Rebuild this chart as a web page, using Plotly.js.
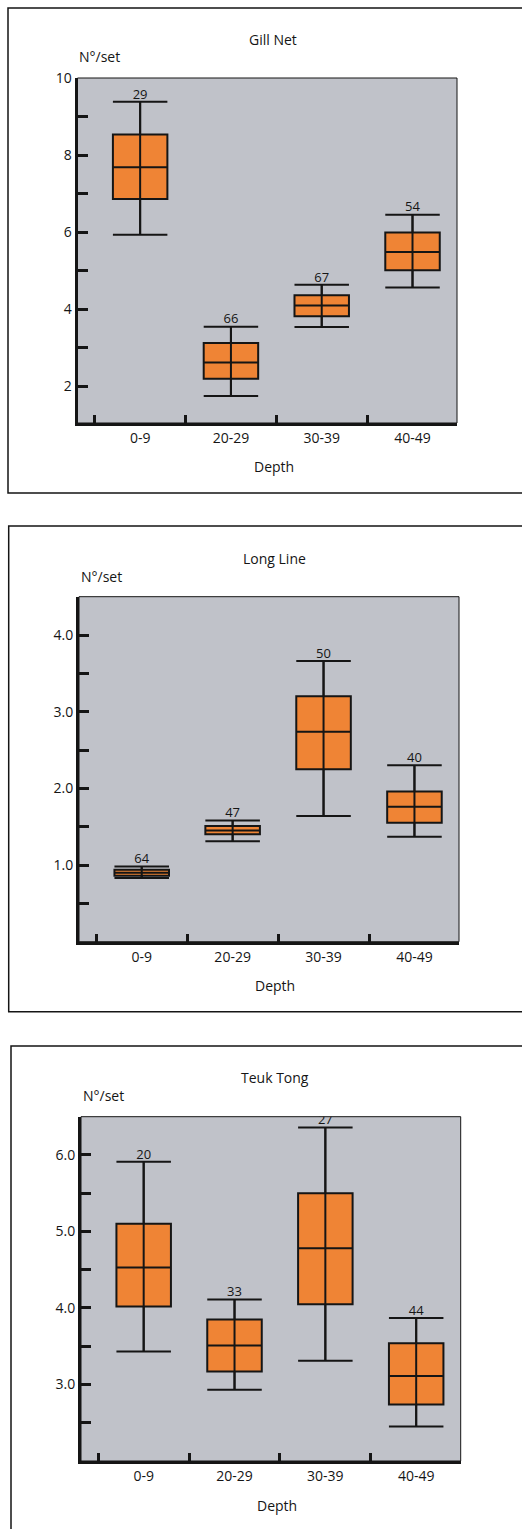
<!DOCTYPE html>
<html>
<head>
<meta charset="utf-8">
<script src="https://cdn.plot.ly/plotly-3.0.1.min.js"></script>
<style>
html,body{margin:0;padding:0;background:#fff;}
#chart{width:522px;height:1529px;}
</style>
</head>
<body>
<div id="chart"></div>
<script>
// ---- data ----
const depths = ['0-9', '20-29', '30-39', '40-49'];
const panelTitles = ['Gill Net', 'Long Line', 'Teuk Tong'];
const yLabel = 'N°/set';
const xLabel = 'Depth';

const gillLower  = [5.93, 1.74, 3.53, 4.56];
const gillQ1     = [6.86, 2.19, 3.81, 5.01];
const gillMedian = [7.68, 2.61, 4.09, 5.48];
const gillQ3     = [8.53, 3.12, 4.36, 5.99];
const gillUpper  = [9.38, 3.54, 4.63, 6.45];
const gillN      = [29, 66, 67, 54];

const longLower  = [0.83, 1.31, 1.64, 1.37];
const longQ1     = [0.86, 1.40, 2.25, 1.55];
const longMedian = [0.90, 1.45, 2.74, 1.76];
const longQ3     = [0.94, 1.51, 3.20, 1.96];
const longUpper  = [0.98, 1.58, 3.66, 2.30];
const longN      = [64, 47, 50, 40];

const teukLower  = [3.43, 2.93, 3.31, 2.45];
const teukQ1     = [4.02, 3.17, 4.05, 2.74];
const teukMedian = [4.53, 3.51, 4.78, 3.11];
const teukQ3     = [5.10, 3.85, 5.50, 3.54];
const teukUpper  = [5.91, 4.11, 6.36, 3.87];
const teukN      = [20, 33, 27, 44];

const gillTicks = [2, 4, 6, 8, 10];
const longTicks = [1, 2, 3, 4];
const teukTicks = [3, 4, 5, 6];

// ---- layout helpers ----
const W = 522, H = 1529;
const px = v => v / W;
const py = v => 1 - v / H;
const FONT = '"Open Sans", "Noto Sans", sans-serif';
const ORANGE = '#EF8435';
const GRAY = '#C0C2C9';
const INK = '#151515';

const series = [
  {lo: gillLower, q1: gillQ1, med: gillMedian, q3: gillQ3, hi: gillUpper, n: gillN,
   ticks: gillTicks, fmt: 'd', range: [1.04, 10], minor: 1,
   plot: [77.5, 78, 457, 423], frame: [8, 8, 530, 493],
   title: [273, 39], ylab: [77, 57], xlab: [274, 467]},
  {lo: longLower, q1: longQ1, med: longMedian, q3: longQ3, hi: longUpper, n: longN,
   ticks: longTicks, fmt: '.1f', range: [0, 4.5], minor: 0.5,
   plot: [79, 596.7, 459, 941.7], frame: [8.7, 526, 530, 1011.7],
   title: [274, 558], ylab: [79, 576], xlab: [275, 985]},
  {lo: teukLower, q1: teukQ1, med: teukMedian, q3: teukQ3, hi: teukUpper, n: teukN,
   ticks: teukTicks, fmt: '.1f', range: [2, 6.5], minor: 0.5,
   plot: [81, 1116.7, 460.7, 1461], frame: [11, 1046, 530, 1545],
   title: [275, 1077], ylab: [81, 1095], xlab: [277, 1505]}
];

const data = [];
const layout = {
  width: W, height: H,
  margin: {l: 0, r: 0, t: 0, b: 0},
  paper_bgcolor: '#ffffff',
  plot_bgcolor: GRAY,
  showlegend: false,
  font: {family: FONT, size: 14, color: INK},
  shapes: [],
  annotations: []
};

series.forEach((s, i) => {
  const k = i === 0 ? '' : String(i + 1);
  const xa = 'x' + k, ya = 'y' + k;

  data.push({
    type: 'box', xaxis: xa, yaxis: ya,
    x: depths, q1: s.q1, median: s.med, q3: s.q3,
    lowerfence: s.lo, upperfence: s.hi,
    boxpoints: false, width: 0.6, whiskerwidth: 1,
    fillcolor: ORANGE, line: {color: INK, width: 2},
    hoverinfo: 'skip'
  });

  // whisker running through the box
  const wx = [], wy = [];
  depths.forEach((d, j) => { wx.push(d, d, null); wy.push(s.lo[j], s.hi[j], null); });
  data.push({
    type: 'scatter', mode: 'lines', xaxis: xa, yaxis: ya,
    x: wx, y: wy, line: {color: INK, width: 2}, hoverinfo: 'skip'
  });

  // sample sizes above the upper whisker
  data.push({
    type: 'scatter', mode: 'text', xaxis: xa, yaxis: ya,
    x: depths, y: s.hi, text: s.n.map(String),
    textposition: 'top center', textfont: {family: FONT, size: 13, color: INK},
    hoverinfo: 'skip'
  });

  const [l, t, r, b] = s.plot;
  layout['xaxis' + k] = {
    domain: [px(l), px(r)], anchor: ya,
    type: 'category', categoryorder: 'array', categoryarray: depths,
    range: [-0.69, 3.49],
    showline: true, linewidth: 3, linecolor: INK,
    ticks: 'inside', tickson: 'boundaries', ticklen: 8, tickwidth: 3, tickcolor: INK,
    showgrid: false, zeroline: false, fixedrange: true,
    tickfont: {family: FONT, size: 14, color: INK}
  };
  layout['yaxis' + k] = {
    domain: [py(b), py(t)], anchor: xa,
    range: s.range,
    tickmode: 'array', tickvals: s.ticks, tickformat: s.fmt,
    showline: true, linewidth: 3, linecolor: INK,
    ticks: 'inside', ticklen: 10, tickwidth: 3, tickcolor: INK,
    minor: {tickmode: 'linear', tick0: 0, dtick: s.minor, ticks: 'inside', ticklen: 10, tickwidth: 3, tickcolor: INK, showgrid: false},
    showgrid: false, zeroline: false, fixedrange: true,
    tickfont: {family: FONT, size: 14, color: INK}
  };

  // thin plot-area border
  layout.shapes.push({
    type: 'rect', xref: xa + ' domain', yref: ya + ' domain',
    x0: 0, x1: 1, y0: 0, y1: 1, layer: 'below',
    line: {color: INK, width: 1}, fillcolor: 'rgba(0,0,0,0)'
  });
  // outer frame
  const [fl, ft, fr, fb] = s.frame;
  layout.shapes.push({
    type: 'rect', xref: 'paper', yref: 'paper',
    x0: px(fl), x1: px(fr), y0: py(fb), y1: py(ft),
    line: {color: INK, width: 1.5}, fillcolor: 'rgba(0,0,0,0)'
  });

  layout.annotations.push(
    {xref: 'paper', yref: 'paper', x: px(s.title[0]), y: py(s.title[1]),
     xanchor: 'center', yanchor: 'middle', showarrow: false,
     text: panelTitles[i], font: {family: FONT, size: 14, color: INK}},
    {xref: 'paper', yref: 'paper', x: px(s.ylab[0]), y: py(s.ylab[1]),
     xanchor: 'left', yanchor: 'middle', showarrow: false,
     text: yLabel, font: {family: FONT, size: 14, color: INK}},
    {xref: 'paper', yref: 'paper', x: px(s.xlab[0]), y: py(s.xlab[1]),
     xanchor: 'center', yanchor: 'middle', showarrow: false,
     text: xLabel, font: {family: FONT, size: 14, color: INK}}
  );
});

Plotly.newPlot('chart', data, layout, {staticPlot: true, displayModeBar: false});
</script>
</body>
</html>
